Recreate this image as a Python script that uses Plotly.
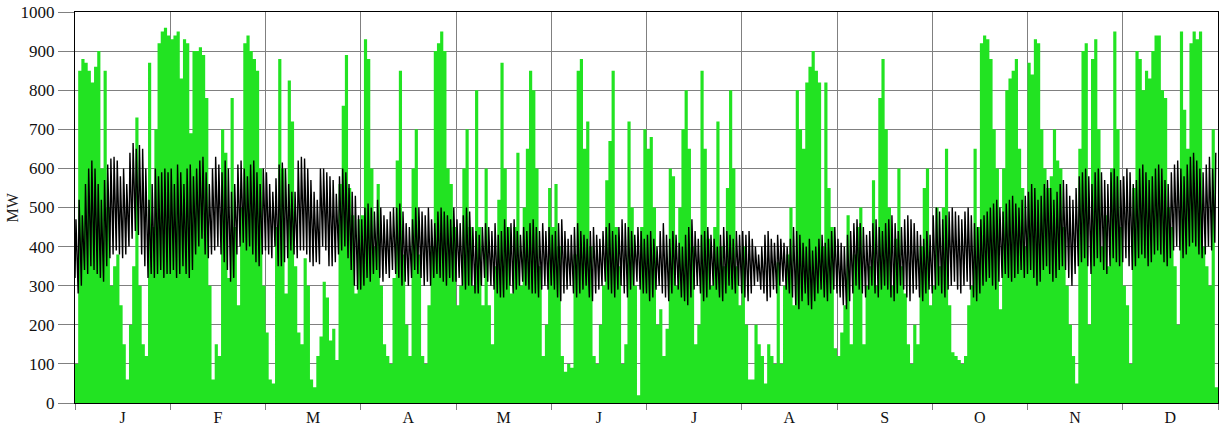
import plotly.graph_objects as go

month_labels = ["J", "F", "M", "A", "M", "J", "J", "A", "S", "O", "N", "D"]
y_ticks = list(range(0, 1001, 100))

# Wind generation (MW), 30 samples per month
wind_jan = [100, 850, 880, 870, 850, 820, 860, 900, 600, 850, 500, 300, 350, 380, 250, 150, 60, 200, 350, 730, 300, 150, 120, 870, 450, 700, 920, 950, 960, 940]
wind_feb = [930, 940, 950, 830, 930, 920, 690, 900, 900, 910, 890, 780, 300, 60, 150, 120, 700, 640, 320, 780, 450, 250, 500, 920, 940, 900, 880, 850, 600, 300]
wind_mar = [180, 60, 50, 450, 880, 600, 280, 825, 720, 350, 180, 150, 370, 300, 60, 40, 120, 170, 310, 270, 160, 190, 110, 560, 760, 890, 550, 480, 280, 470]
wind_apr = [480, 930, 880, 600, 400, 560, 300, 150, 120, 100, 320, 620, 850, 380, 200, 120, 600, 700, 380, 120, 100, 250, 400, 900, 920, 950, 900, 600, 560, 450]
wind_may = [250, 300, 600, 700, 450, 300, 800, 450, 250, 600, 250, 150, 350, 520, 870, 600, 450, 280, 450, 640, 300, 500, 650, 850, 800, 600, 350, 120, 200, 550]
wind_jun = [450, 560, 400, 120, 80, 100, 90, 380, 850, 880, 650, 720, 400, 120, 100, 200, 300, 570, 670, 850, 450, 350, 100, 150, 720, 500, 300, 20, 450, 700]
wind_jul = [650, 680, 500, 200, 240, 120, 190, 600, 580, 300, 500, 700, 800, 650, 400, 150, 200, 850, 650, 420, 300, 450, 720, 400, 350, 550, 800, 600, 350, 250]
wind_aug = [400, 200, 60, 60, 200, 150, 120, 50, 150, 120, 100, 360, 100, 300, 380, 500, 250, 800, 700, 650, 820, 860, 900, 850, 820, 400, 820, 550, 450, 140]
wind_sep = [120, 180, 250, 480, 150, 380, 450, 500, 150, 300, 350, 570, 300, 780, 880, 700, 500, 300, 420, 600, 350, 280, 150, 100, 200, 150, 400, 550, 600, 250]
wind_oct = [300, 500, 350, 500, 650, 250, 130, 120, 110, 100, 120, 250, 300, 650, 450, 920, 940, 930, 880, 700, 600, 240, 600, 800, 830, 850, 880, 650, 550, 400]
wind_nov = [870, 840, 930, 920, 700, 600, 550, 580, 700, 620, 600, 450, 300, 200, 120, 50, 650, 900, 920, 200, 880, 930, 700, 400, 480, 350, 600, 950, 700, 450]
wind_dec = [300, 250, 100, 550, 900, 880, 800, 850, 830, 900, 940, 940, 800, 780, 500, 450, 350, 200, 950, 750, 650, 920, 950, 930, 950, 400, 350, 300, 700, 40]

# Demand (MW): daily peaks and troughs, 30 samples per month
peak_jan = [470, 520, 480, 560, 600, 620, 600, 560, 520, 570, 610, 625, 630, 620, 580, 600, 560, 640, 665, 650, 660, 650, 600, 520, 560, 600, 580, 590, 600, 590]
peak_feb = [600, 560, 610, 590, 560, 600, 610, 580, 600, 620, 630, 590, 560, 600, 630, 610, 590, 620, 600, 540, 560, 610, 620, 600, 580, 610, 620, 590, 560, 600]
peak_mar = [590, 560, 540, 575, 610, 615, 600, 560, 540, 540, 620, 630, 625, 600, 570, 540, 520, 600, 600, 590, 580, 570, 535, 580, 600, 590, 560, 540, 530, 480]
peak_apr = [470, 500, 510, 500, 490, 520, 500, 480, 470, 490, 500, 500, 510, 490, 460, 450, 470, 500, 500, 490, 480, 500, 470, 460, 490, 500, 490, 480, 470, 500]
peak_may = [470, 460, 480, 500, 490, 450, 440, 430, 450, 460, 450, 440, 460, 430, 440, 470, 450, 460, 470, 440, 430, 450, 440, 460, 470, 450, 440, 460, 440, 450]
peak_jun = [430, 440, 460, 470, 440, 420, 430, 450, 460, 440, 430, 420, 440, 450, 430, 420, 440, 450, 460, 440, 430, 450, 470, 460, 450, 440, 430, 450, 440, 420]
peak_jul = [430, 440, 420, 400, 440, 460, 430, 420, 440, 430, 410, 400, 430, 450, 470, 440, 420, 430, 440, 450, 430, 420, 400, 430, 450, 440, 430, 420, 440, 430]
peak_aug = [440, 430, 440, 420, 400, 380, 400, 430, 440, 420, 410, 430, 420, 410, 400, 420, 450, 440, 430, 410, 400, 420, 390, 400, 420, 430, 410, 420, 440, 450]
peak_sep = [420, 410, 400, 430, 440, 460, 470, 460, 450, 430, 440, 460, 470, 450, 440, 460, 470, 480, 460, 440, 450, 470, 480, 470, 460, 440, 430, 420, 440, 430]
peak_oct = [480, 500, 490, 470, 480, 490, 500, 490, 480, 470, 490, 500, 480, 460, 450, 470, 480, 490, 500, 510, 520, 500, 490, 510, 520, 530, 510, 500, 520, 530]
peak_nov = [540, 560, 550, 520, 530, 560, 570, 550, 520, 540, 560, 570, 560, 530, 520, 550, 580, 590, 600, 580, 560, 590, 600, 590, 570, 560, 590, 600, 580, 570]
peak_dec = [580, 600, 590, 560, 570, 600, 610, 590, 570, 580, 600, 610, 600, 570, 560, 590, 610, 620, 600, 580, 610, 630, 640, 620, 600, 590, 610, 630, 600, 640]

trough_jan = [320, 280, 300, 340, 330, 350, 340, 330, 320, 310, 350, 370, 380, 390, 380, 370, 380, 400, 420, 440, 430, 380, 350, 320, 330, 320, 330, 340, 320, 330]
trough_feb = [330, 340, 320, 330, 350, 330, 320, 340, 380, 400, 420, 380, 370, 380, 390, 400, 380, 360, 340, 310, 320, 380, 400, 410, 390, 400, 380, 360, 350, 380]
trough_mar = [390, 380, 370, 400, 350, 350, 360, 370, 390, 380, 370, 390, 390, 380, 360, 350, 360, 355, 400, 390, 350, 350, 360, 380, 390, 400, 370, 340, 300, 290]
trough_apr = [290, 300, 320, 310, 330, 340, 320, 310, 330, 320, 340, 330, 320, 300, 310, 300, 320, 340, 330, 320, 300, 310, 300, 320, 330, 320, 310, 300, 320, 310]
trough_may = [310, 320, 300, 290, 300, 300, 280, 280, 300, 320, 310, 300, 290, 280, 270, 270, 290, 300, 280, 290, 300, 310, 300, 290, 280, 280, 270, 290, 300, 290]
trough_jun = [300, 290, 270, 260, 280, 290, 300, 280, 270, 280, 290, 300, 270, 260, 280, 290, 300, 310, 290, 280, 270, 290, 300, 280, 270, 290, 300, 310, 290, 280]
trough_jul = [280, 260, 270, 290, 300, 280, 270, 260, 280, 300, 290, 270, 260, 250, 270, 290, 300, 280, 260, 270, 290, 300, 290, 270, 260, 280, 300, 290, 280, 300]
trough_aug = [280, 270, 260, 280, 300, 310, 290, 280, 260, 270, 290, 280, 300, 310, 290, 280, 270, 250, 240, 260, 280, 250, 240, 260, 280, 290, 270, 260, 280, 290]
trough_sep = [280, 270, 250, 240, 260, 280, 300, 290, 280, 270, 290, 300, 280, 270, 290, 300, 290, 270, 260, 280, 300, 290, 270, 260, 280, 290, 270, 260, 280, 290]
trough_oct = [280, 290, 300, 280, 270, 290, 300, 310, 290, 280, 300, 310, 290, 270, 260, 280, 300, 310, 320, 300, 290, 310, 320, 330, 320, 310, 320, 330, 340, 320]
trough_nov = [330, 340, 320, 300, 310, 340, 350, 330, 310, 320, 340, 350, 340, 320, 300, 330, 350, 360, 370, 350, 330, 350, 370, 360, 340, 330, 350, 370, 360, 350]
trough_dec = [360, 370, 350, 340, 350, 370, 380, 370, 350, 360, 380, 390, 380, 360, 350, 370, 390, 400, 390, 370, 380, 400, 410, 400, 380, 370, 380, 400, 390, 410]

wind = (wind_jan + wind_feb + wind_mar + wind_apr + wind_may + wind_jun +
        wind_jul + wind_aug + wind_sep + wind_oct + wind_nov + wind_dec)
peak = (peak_jan + peak_feb + peak_mar + peak_apr + peak_may + peak_jun +
        peak_jul + peak_aug + peak_sep + peak_oct + peak_nov + peak_dec)
trough = (trough_jan + trough_feb + trough_mar + trough_apr + trough_may + trough_jun +
          trough_jul + trough_aug + trough_sep + trough_oct + trough_nov + trough_dec)

per_month = 30
n = len(wind)
xw = [i / per_month for i in range(n)] + [n / per_month]
yw = wind + [wind[-1]]

xd, yd = [], []
for i in range(n):
    xd += [i / per_month, (i + 0.3) / per_month]
    yd += [trough[i], peak[i]]

fig = go.Figure()
fig.add_trace(go.Scatter(x=xw, y=yw, mode="lines", line=dict(width=0, shape="hv"),
                         fill="tozeroy", fillcolor="#22e322", hoverinfo="skip", name="Wind"))
fig.add_trace(go.Scatter(x=xd, y=yd, mode="lines", line=dict(color="#000000", width=1.4),
                         name="Demand"))

grid = "#808080"
font = "Liberation Serif"
fig.update_layout(
    width=1226, height=430,
    margin=dict(l=75, r=8, t=12, b=27, autoexpand=False),
    paper_bgcolor="white", plot_bgcolor="white",
    showlegend=False,
    font=dict(family=font, size=17, color="#111111"),
    xaxis=dict(
        range=[0, 12], tickvals=[m + 0.5 for m in range(12)], ticktext=month_labels,
        ticks="", showgrid=False, zeroline=False, automargin=False,
        showline=True, linecolor="black", linewidth=1, mirror=True,
        tickfont=dict(family=font, size=16),
        minor=dict(tickvals=list(range(13)), ticks="outside", ticklen=6,
                   tickcolor=grid, showgrid=True, gridcolor=grid, gridwidth=1),
    ),
    yaxis=dict(
        range=[0, 1000], tickvals=y_ticks, ticks="outside", ticklen=16, tickcolor=grid,
        showgrid=True, gridcolor=grid, gridwidth=1, zeroline=False, automargin=False,
        showline=True, linecolor="black", linewidth=1, mirror=True,
        tickfont=dict(family=font, size=17),
    ),
    annotations=[dict(text="MW", xref="paper", yref="paper", x=(12 - 75) / 1143, y=0.5,
                      textangle=-90, showarrow=False, font=dict(family=font, size=16, color="#222222"),
                      xanchor="center", yanchor="middle")],
)
fig.write_html("out.html", config={"displayModeBar": False},
               post_script="document.body.style.margin='0';document.body.style.overflow='hidden';")
